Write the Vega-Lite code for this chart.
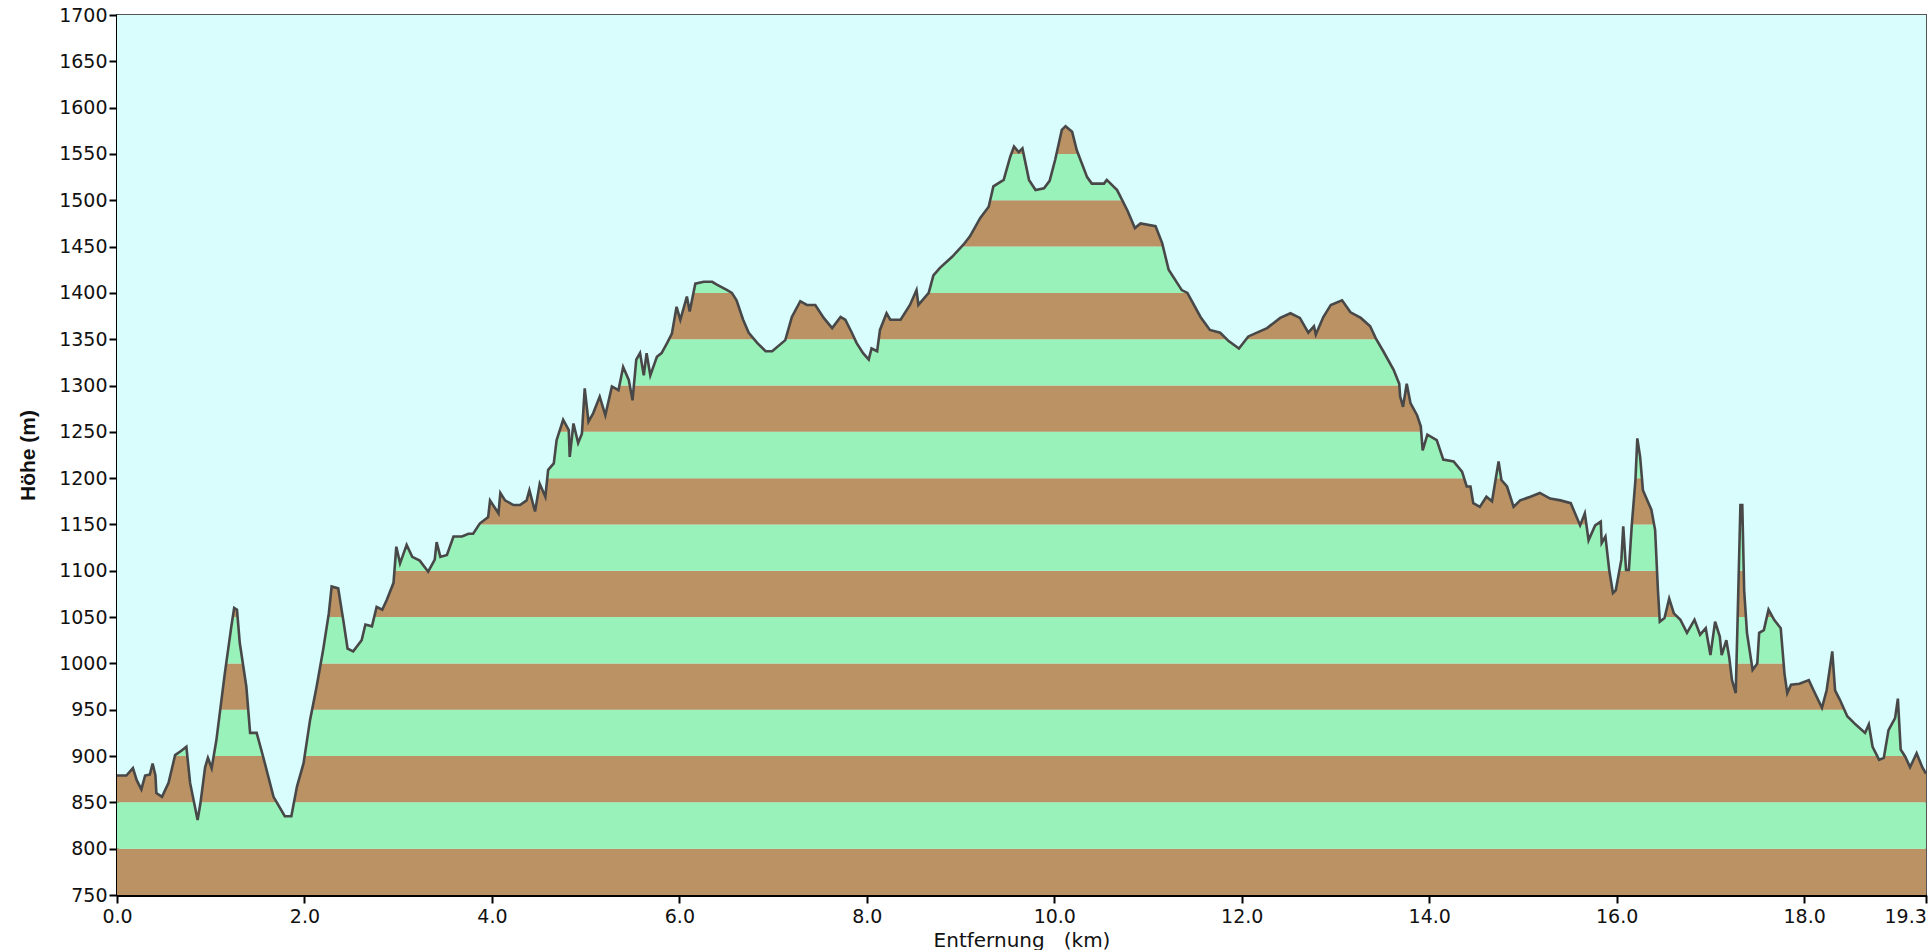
{
  "$schema": "https://vega.github.io/schema/vega-lite/v6.json",
  "width": 1809,
  "height": 880,
  "autosize": {"type": "none"},
  "padding": {"left": 117, "top": 15, "right": 4, "bottom": 55},
  "background": "#ffffff",
  "config": {
    "view": {"fill": "#d9fdfd", "stroke": "#555555", "strokeWidth": 2},
    "axis": {
      "domainColor": "#000000", "domainWidth": 3,
      "tickColor": "#000000", "tickWidth": 2, "tickSize": 8,
      "labelFont": "DejaVu Sans", "labelFontSize": 19, "labelColor": "#111111",
      "grid": false
    }
  },
  "datasets": {
    "bands": [
      {"lo": 750, "hi": 800, "c": "b"}, {"lo": 800, "hi": 850, "c": "g"},
      {"lo": 850, "hi": 900, "c": "b"}, {"lo": 900, "hi": 950, "c": "g"},
      {"lo": 950, "hi": 1000, "c": "b"}, {"lo": 1000, "hi": 1050, "c": "g"},
      {"lo": 1050, "hi": 1100, "c": "b"}, {"lo": 1100, "hi": 1150, "c": "g"},
      {"lo": 1150, "hi": 1200, "c": "b"}, {"lo": 1200, "hi": 1250, "c": "g"},
      {"lo": 1250, "hi": 1300, "c": "b"}, {"lo": 1300, "hi": 1350, "c": "g"},
      {"lo": 1350, "hi": 1400, "c": "b"}, {"lo": 1400, "hi": 1450, "c": "g"},
      {"lo": 1450, "hi": 1500, "c": "b"}, {"lo": 1500, "hi": 1550, "c": "g"},
      {"lo": 1550, "hi": 1600, "c": "b"}, {"lo": 1600, "hi": 1650, "c": "g"},
      {"lo": 1650, "hi": 1700, "c": "b"}
    ],
    "profile": [
      {"km": 0.00, "m": 879}, {"km": 0.10, "m": 879}, {"km": 0.17, "m": 887}, {"km": 0.21, "m": 874},
      {"km": 0.26, "m": 864}, {"km": 0.30, "m": 879}, {"km": 0.35, "m": 880}, {"km": 0.38, "m": 892},
      {"km": 0.41, "m": 879}, {"km": 0.42, "m": 860}, {"km": 0.48, "m": 856}, {"km": 0.55, "m": 871},
      {"km": 0.62, "m": 901}, {"km": 0.69, "m": 906}, {"km": 0.74, "m": 910}, {"km": 0.78, "m": 871},
      {"km": 0.86, "m": 831}, {"km": 0.89, "m": 849}, {"km": 0.94, "m": 888}, {"km": 0.97, "m": 898},
      {"km": 1.01, "m": 887}, {"km": 1.06, "m": 917}, {"km": 1.15, "m": 989}, {"km": 1.22, "m": 1040},
      {"km": 1.25, "m": 1060}, {"km": 1.28, "m": 1058}, {"km": 1.31, "m": 1022}, {"km": 1.38, "m": 975},
      {"km": 1.42, "m": 925}, {"km": 1.49, "m": 925}, {"km": 1.56, "m": 899}, {"km": 1.67, "m": 856},
      {"km": 1.79, "m": 835}, {"km": 1.86, "m": 835}, {"km": 1.92, "m": 867}, {"km": 1.99, "m": 892},
      {"km": 2.06, "m": 939}, {"km": 2.13, "m": 975}, {"km": 2.20, "m": 1015}, {"km": 2.26, "m": 1054},
      {"km": 2.29, "m": 1083}, {"km": 2.36, "m": 1081}, {"km": 2.42, "m": 1043}, {"km": 2.46, "m": 1016},
      {"km": 2.52, "m": 1013}, {"km": 2.61, "m": 1025}, {"km": 2.65, "m": 1042}, {"km": 2.72, "m": 1040},
      {"km": 2.77, "m": 1061}, {"km": 2.83, "m": 1058}, {"km": 2.88, "m": 1069}, {"km": 2.95, "m": 1087},
      {"km": 2.98, "m": 1126}, {"km": 3.02, "m": 1108}, {"km": 3.09, "m": 1128}, {"km": 3.15, "m": 1115},
      {"km": 3.23, "m": 1111}, {"km": 3.32, "m": 1099}, {"km": 3.39, "m": 1112}, {"km": 3.41, "m": 1131},
      {"km": 3.45, "m": 1115}, {"km": 3.52, "m": 1117}, {"km": 3.59, "m": 1137}, {"km": 3.68, "m": 1137},
      {"km": 3.75, "m": 1140}, {"km": 3.80, "m": 1140}, {"km": 3.87, "m": 1151}, {"km": 3.96, "m": 1158},
      {"km": 3.98, "m": 1176}, {"km": 4.07, "m": 1162}, {"km": 4.09, "m": 1184}, {"km": 4.14, "m": 1176},
      {"km": 4.23, "m": 1171}, {"km": 4.30, "m": 1171}, {"km": 4.37, "m": 1176}, {"km": 4.40, "m": 1187},
      {"km": 4.46, "m": 1164}, {"km": 4.51, "m": 1194}, {"km": 4.57, "m": 1180}, {"km": 4.60, "m": 1209},
      {"km": 4.66, "m": 1216}, {"km": 4.69, "m": 1241}, {"km": 4.76, "m": 1263}, {"km": 4.82, "m": 1252},
      {"km": 4.83, "m": 1223}, {"km": 4.87, "m": 1259}, {"km": 4.92, "m": 1238}, {"km": 4.96, "m": 1248},
      {"km": 4.99, "m": 1297}, {"km": 5.03, "m": 1261}, {"km": 5.08, "m": 1270}, {"km": 5.15, "m": 1288},
      {"km": 5.21, "m": 1268}, {"km": 5.28, "m": 1299}, {"km": 5.35, "m": 1295}, {"km": 5.40, "m": 1320},
      {"km": 5.46, "m": 1306}, {"km": 5.50, "m": 1284}, {"km": 5.54, "m": 1328}, {"km": 5.58, "m": 1335},
      {"km": 5.62, "m": 1311}, {"km": 5.65, "m": 1335}, {"km": 5.69, "m": 1311}, {"km": 5.76, "m": 1331},
      {"km": 5.81, "m": 1335}, {"km": 5.87, "m": 1346}, {"km": 5.92, "m": 1356}, {"km": 5.97, "m": 1385},
      {"km": 6.01, "m": 1371}, {"km": 6.08, "m": 1396}, {"km": 6.11, "m": 1380}, {"km": 6.17, "m": 1410},
      {"km": 6.26, "m": 1412}, {"km": 6.35, "m": 1412}, {"km": 6.40, "m": 1409}, {"km": 6.51, "m": 1403},
      {"km": 6.56, "m": 1400}, {"km": 6.61, "m": 1392}, {"km": 6.68, "m": 1371}, {"km": 6.74, "m": 1357},
      {"km": 6.83, "m": 1346}, {"km": 6.92, "m": 1337}, {"km": 6.99, "m": 1337}, {"km": 7.13, "m": 1349},
      {"km": 7.20, "m": 1374}, {"km": 7.29, "m": 1391}, {"km": 7.36, "m": 1387}, {"km": 7.45, "m": 1387},
      {"km": 7.54, "m": 1373}, {"km": 7.63, "m": 1362}, {"km": 7.72, "m": 1374}, {"km": 7.77, "m": 1371},
      {"km": 7.84, "m": 1357}, {"km": 7.89, "m": 1346}, {"km": 7.96, "m": 1335}, {"km": 8.02, "m": 1328},
      {"km": 8.05, "m": 1340}, {"km": 8.11, "m": 1337}, {"km": 8.14, "m": 1360}, {"km": 8.21, "m": 1378},
      {"km": 8.25, "m": 1371}, {"km": 8.36, "m": 1371}, {"km": 8.46, "m": 1387}, {"km": 8.53, "m": 1403},
      {"km": 8.55, "m": 1387}, {"km": 8.66, "m": 1400}, {"km": 8.71, "m": 1419}, {"km": 8.78, "m": 1427},
      {"km": 8.91, "m": 1439}, {"km": 9.03, "m": 1452}, {"km": 9.10, "m": 1461}, {"km": 9.21, "m": 1481},
      {"km": 9.30, "m": 1493}, {"km": 9.35, "m": 1515}, {"km": 9.46, "m": 1522}, {"km": 9.53, "m": 1547},
      {"km": 9.57, "m": 1558}, {"km": 9.62, "m": 1552}, {"km": 9.66, "m": 1556}, {"km": 9.73, "m": 1522},
      {"km": 9.80, "m": 1511}, {"km": 9.89, "m": 1513}, {"km": 9.95, "m": 1521}, {"km": 10.01, "m": 1544},
      {"km": 10.08, "m": 1576}, {"km": 10.12, "m": 1580}, {"km": 10.19, "m": 1574}, {"km": 10.24, "m": 1554},
      {"km": 10.35, "m": 1525}, {"km": 10.40, "m": 1518}, {"km": 10.53, "m": 1518}, {"km": 10.56, "m": 1522},
      {"km": 10.67, "m": 1511}, {"km": 10.78, "m": 1489}, {"km": 10.86, "m": 1470}, {"km": 10.92, "m": 1475},
      {"km": 11.08, "m": 1472}, {"km": 11.15, "m": 1454}, {"km": 11.22, "m": 1425}, {"km": 11.36, "m": 1403},
      {"km": 11.42, "m": 1400}, {"km": 11.56, "m": 1374}, {"km": 11.66, "m": 1360}, {"km": 11.77, "m": 1357},
      {"km": 11.86, "m": 1348}, {"km": 11.97, "m": 1340}, {"km": 12.07, "m": 1353}, {"km": 12.27, "m": 1362},
      {"km": 12.41, "m": 1373}, {"km": 12.52, "m": 1378}, {"km": 12.62, "m": 1373}, {"km": 12.71, "m": 1357},
      {"km": 12.77, "m": 1364}, {"km": 12.79, "m": 1355}, {"km": 12.87, "m": 1374}, {"km": 12.95, "m": 1387},
      {"km": 13.07, "m": 1392}, {"km": 13.16, "m": 1379}, {"km": 13.27, "m": 1373}, {"km": 13.37, "m": 1364},
      {"km": 13.43, "m": 1351}, {"km": 13.51, "m": 1337}, {"km": 13.62, "m": 1317}, {"km": 13.68, "m": 1302},
      {"km": 13.69, "m": 1288}, {"km": 13.72, "m": 1277}, {"km": 13.76, "m": 1302}, {"km": 13.80, "m": 1281},
      {"km": 13.87, "m": 1268}, {"km": 13.91, "m": 1256}, {"km": 13.93, "m": 1230}, {"km": 13.98, "m": 1247},
      {"km": 14.08, "m": 1241}, {"km": 14.15, "m": 1220}, {"km": 14.26, "m": 1218}, {"km": 14.35, "m": 1207},
      {"km": 14.40, "m": 1191}, {"km": 14.44, "m": 1191}, {"km": 14.47, "m": 1173}, {"km": 14.54, "m": 1169},
      {"km": 14.61, "m": 1180}, {"km": 14.67, "m": 1175}, {"km": 14.74, "m": 1218}, {"km": 14.77, "m": 1198},
      {"km": 14.83, "m": 1191}, {"km": 14.90, "m": 1169}, {"km": 14.97, "m": 1176}, {"km": 15.08, "m": 1180},
      {"km": 15.18, "m": 1184}, {"km": 15.29, "m": 1178}, {"km": 15.40, "m": 1176}, {"km": 15.51, "m": 1173},
      {"km": 15.61, "m": 1149}, {"km": 15.66, "m": 1162}, {"km": 15.70, "m": 1133}, {"km": 15.77, "m": 1149},
      {"km": 15.83, "m": 1153}, {"km": 15.84, "m": 1130}, {"km": 15.88, "m": 1137}, {"km": 15.92, "m": 1101},
      {"km": 15.96, "m": 1076}, {"km": 15.99, "m": 1079}, {"km": 16.05, "m": 1112}, {"km": 16.07, "m": 1148},
      {"km": 16.10, "m": 1101}, {"km": 16.13, "m": 1101}, {"km": 16.16, "m": 1148}, {"km": 16.20, "m": 1198},
      {"km": 16.22, "m": 1243}, {"km": 16.25, "m": 1223}, {"km": 16.28, "m": 1187}, {"km": 16.34, "m": 1173},
      {"km": 16.37, "m": 1166}, {"km": 16.41, "m": 1144}, {"km": 16.44, "m": 1079}, {"km": 16.46, "m": 1045},
      {"km": 16.51, "m": 1049}, {"km": 16.56, "m": 1070}, {"km": 16.61, "m": 1054}, {"km": 16.68, "m": 1047},
      {"km": 16.75, "m": 1033}, {"km": 16.83, "m": 1047}, {"km": 16.89, "m": 1031}, {"km": 16.95, "m": 1038},
      {"km": 17.00, "m": 1009}, {"km": 17.05, "m": 1045}, {"km": 17.10, "m": 1029}, {"km": 17.12, "m": 1009},
      {"km": 17.17, "m": 1025}, {"km": 17.20, "m": 1007}, {"km": 17.23, "m": 982}, {"km": 17.27, "m": 968},
      {"km": 17.29, "m": 1047}, {"km": 17.32, "m": 1171}, {"km": 17.34, "m": 1171}, {"km": 17.36, "m": 1079},
      {"km": 17.39, "m": 1033}, {"km": 17.45, "m": 993}, {"km": 17.50, "m": 1000}, {"km": 17.52, "m": 1033},
      {"km": 17.57, "m": 1036}, {"km": 17.62, "m": 1058}, {"km": 17.68, "m": 1047}, {"km": 17.75, "m": 1038},
      {"km": 17.79, "m": 989}, {"km": 17.82, "m": 968}, {"km": 17.86, "m": 977}, {"km": 17.95, "m": 978},
      {"km": 18.05, "m": 982}, {"km": 18.10, "m": 971}, {"km": 18.19, "m": 952}, {"km": 18.24, "m": 971},
      {"km": 18.30, "m": 1013}, {"km": 18.33, "m": 971}, {"km": 18.38, "m": 961}, {"km": 18.46, "m": 943},
      {"km": 18.55, "m": 934}, {"km": 18.65, "m": 925}, {"km": 18.69, "m": 934}, {"km": 18.73, "m": 910},
      {"km": 18.80, "m": 896}, {"km": 18.85, "m": 898}, {"km": 18.90, "m": 928}, {"km": 18.97, "m": 941},
      {"km": 19.00, "m": 962}, {"km": 19.03, "m": 907}, {"km": 19.08, "m": 899}, {"km": 19.13, "m": 888},
      {"km": 19.20, "m": 903}, {"km": 19.26, "m": 888}, {"km": 19.30, "m": 881}
    ]
  },
  "layer": [
    {
      "data": {"name": "bands"},
      "mark": {"type": "rect"},
      "encoding": {
        "y": {"field": "lo", "type": "quantitative", "scale": {"domain": [750, 1700], "nice": false, "zero": false}},
        "y2": {"field": "hi"},
        "color": {"field": "c", "type": "nominal", "scale": {"domain": ["b", "g"], "range": ["#ba9264", "#99f2ba"]}, "legend": null}
      }
    },
    {
      "data": {"name": "profile"},
      "mark": {"type": "area", "color": "#d9fdfd", "opacity": 1},
      "encoding": {
        "x": {"field": "km", "type": "quantitative"},
        "y": {"field": "m", "type": "quantitative"},
        "y2": {"datum": 1700}
      }
    },
    {
      "data": {"name": "profile"},
      "mark": {"type": "line", "color": "#484848", "strokeWidth": 2.6},
      "encoding": {
        "x": {
          "field": "km", "type": "quantitative",
          "scale": {"domain": [0, 19.3], "nice": false, "zero": true},
          "axis": {
            "values": [0, 2, 4, 6, 8, 10, 12, 14, 16, 18, 19.3],
            "format": ".1f",
            "title": "Entfernung \u00a0 (km)",
            "titleFont": "DejaVu Sans", "titleFontSize": 20, "titleFontWeight": "normal", "titleColor": "#111111",
            "titlePadding": 4, "labelPadding": 4, "labelFlush": false,
            "labelAlign": {"condition": {"test": "datum.value > 19", "value": "left"}, "value": "center"},
            "labelOffset": {"condition": {"test": "datum.value > 19", "value": -42}, "value": 0}
          }
        },
        "y": {
          "field": "m", "type": "quantitative",
          "scale": {"domain": [750, 1700], "nice": false, "zero": false},
          "axis": {
            "values": [750, 800, 850, 900, 950, 1000, 1050, 1100, 1150, 1200, 1250, 1300, 1350, 1400, 1450, 1500, 1550, 1600, 1650, 1700],
            "format": "d",
            "title": "Höhe (m)",
            "titleFont": "Liberation Sans", "titleFontSize": 21, "titleFontWeight": "bold", "titleColor": "#111111",
            "titlePadding": 20, "labelPadding": 2
          }
        }
      }
    }
  ]
}
